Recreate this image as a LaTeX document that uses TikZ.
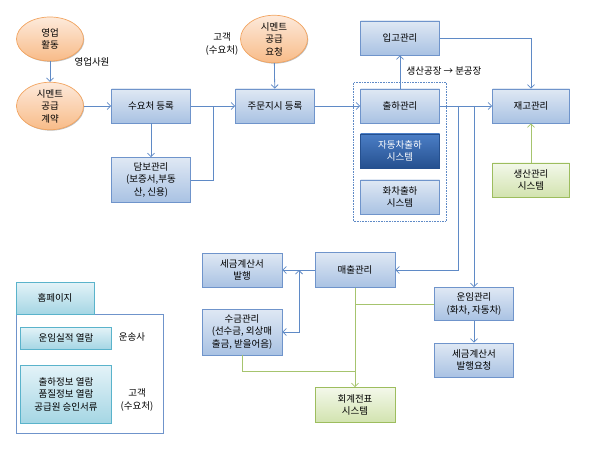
\documentclass[tikz,border=0pt]{standalone}
\usepackage{fontspec}
\setmainfont{Noto Sans CJK KR}
\usepackage{tikz}
\usetikzlibrary{shapes.geometric, arrows.meta, positioning, fit, shadows, calc}

\definecolor{lineblue}{HTML}{5F8AC6}
\definecolor{linegreen}{HTML}{A6C46E}
\definecolor{boxtop}{HTML}{DFE8F4}
\definecolor{boxbot}{HTML}{A9C2E3}
\definecolor{boxdraw}{HTML}{6F94CB}
\definecolor{darktop}{HTML}{4B7EC6}
\definecolor{darkbot}{HTML}{25508F}
\definecolor{greentop}{HTML}{F3F8EA}
\definecolor{greenbot}{HTML}{D2E3AF}
\definecolor{greendraw}{HTML}{9DBD5E}
\definecolor{oratop}{HTML}{FDEADB}
\definecolor{orabot}{HTML}{F8BB88}
\definecolor{oradraw}{HTML}{F2A460}
\definecolor{tealtop}{HTML}{E4F3F8}
\definecolor{tealbot}{HTML}{A5D6E4}
\definecolor{tealdraw}{HTML}{5AB3CB}

\tikzset{
  shade box/.style={drop shadow={shadow xshift=0.8pt, shadow yshift=-0.9pt, opacity=0.25, fill=black}},
  procbox/.style={rectangle, draw=boxdraw, line width=0.7pt, top color=boxtop, bottom color=boxbot,
    minimum width=79pt, minimum height=34pt, align=center, inner sep=1pt, shade box},
  darkbox/.style={procbox, draw=darkbot, top color=darktop, bottom color=darkbot, text=white},
  sysbox/.style={procbox, draw=greendraw, top color=greentop, bottom color=greenbot},
  activity/.style={ellipse, draw=oradraw, line width=0.7pt, top color=oratop, bottom color=orabot,
    minimum width=67pt, minimum height=44pt, inner sep=0pt, align=center, shade box},
  webbox/.style={rectangle, draw=tealdraw, line width=0.7pt, top color=tealtop, bottom color=tealbot,
    minimum width=91pt, align=center, inner sep=1pt, shade box},
  note/.style={align=center, inner sep=0pt},
  flow/.style={draw=lineblue, line width=0.8pt, -{Straight Barb[length=3.5pt, width=7pt]}},
  link/.style={draw=lineblue, line width=0.8pt},
  gflow/.style={draw=linegreen, line width=0.8pt, -{Straight Barb[length=3.5pt, width=7pt]}},
  glink/.style={draw=linegreen, line width=0.8pt}
}

\begin{document}
\begin{tikzpicture}[x=1pt, y=-1pt, on grid, font=\fontsize{9.5pt}{12.5pt}\selectfont]
  \useasboundingbox (0,0) rectangle (591,449);

  \node[activity] (act) at (50,39) {영업\\활동};
  \node[activity] (contract) [below=67pt of act] {시멘트\\공급\\계약};
  \node[procbox] (cust) [right=101pt of contract] {수요처 등록};
  \node[procbox, minimum height=45pt] (guar) [below=74pt of cust] {담보관리\\(보증서,부동\\산, 신용)};
  \node[procbox] (order) [right=124pt of cust] {주문지시 등록};
  \node[activity] (req) at (274,39) {시멘트\\공급\\요청};
  \node[procbox] (ship) [right=125pt of order] {출하관리};
  \node[procbox] (recv) [above=68pt of ship] {입고관리};
  \node[darkbox] (autoship) [below=45pt of ship] {자동차출하\\시스템};
  \node[procbox] (railship) [below=46pt of autoship] {화차출하\\시스템};
  \node[procbox, minimum width=77pt] (stock) [right=131pt of ship] {재고관리};
  \node[sysbox, minimum width=77pt] (prod) [below=74pt of stock] {생산관리\\시스템};
  \node[draw=lineblue, line width=0.6pt, densely dotted, inner sep=6.5pt, fit=(ship) (railship)] (group) {};

  \node[procbox, minimum width=80pt, minimum height=35pt] (sales) at (355,270) {매출관리};
  \node[procbox, minimum height=33pt] (freight) at (474,304) {운임관리\\(화차, 자동차)};
  \node[procbox] (taxreq) [below=56pt of freight] {세금계산서\\발행요청};
  \node[sysbox, minimum width=80pt, minimum height=35pt] (account) [below=135pt of sales] {회계전표\\시스템};
  \node[procbox, minimum width=80pt] (tax) [left=113pt of sales] {세금계산서\\발행};
  \node[procbox, minimum width=80pt, minimum height=46pt] (collect) [below=62pt of tax] {수금관리\\(선수금, 외상매\\출금, 받을어음)};

  \node[note] (salesman) at (92,62) {영업사원};
  \node[note] (client) at (222,44) {고객\\(수요처)};
  \node[note] (route) at (444,71) {생산공장 → 분공장};

  \draw[draw=boxdraw, line width=0.7pt, fill=white] (16,314) rectangle (163,433);
  \node[webbox, minimum width=78pt, minimum height=32pt, drop shadow={opacity=0}] (web) at (55,298) {홈페이지};
  \node[webbox, minimum height=22pt] (view1) at (66,338) {운임실적 열람};
  \node[webbox, minimum height=58pt] (view2) at (66,394) {출하정보 열람\\품질정보 열람\\공급원 승인서류};
  \node[note] (carrier) at (132,337) {운송사};
  \node[note] (client2) at (137,400) {고객\\(수요처)};

  \coordinate (j1) at (213,106);
  \coordinate (j2) at (458,106);
  \coordinate (j3) at (474,106);
  \coordinate (j4) at (299,270);
  \coordinate (j5) at (355,304);
  \coordinate (j6) at (355,371);

  \path[flow]
    (act) edge (contract)
    (contract) edge (cust)
    (cust) edge (guar)
    (cust) edge (order)
    (req) edge (order)
    (order) edge (ship)
    (ship) edge (recv)
    (ship) edge (stock)
    (j3) edge (freight)
    (freight) edge (taxreq)
    (j4) edge (tax.east);
  \draw[link] (guar.east) -| (j1);
  \draw[flow] (recv.east) -| (stock.north);
  \draw[flow] (j2) |- (sales.east);
  \draw[link] (sales.west) -- (j4);
  \draw[flow] (j4) |- (collect.east);
  \draw[gflow] (prod) -- (stock);
  \draw[gflow] (sales) -- (account);
  \draw[glink] (freight.west) -- (j5);
  \draw[glink] (collect.south) |- (j6);
\end{tikzpicture}
\end{document}
